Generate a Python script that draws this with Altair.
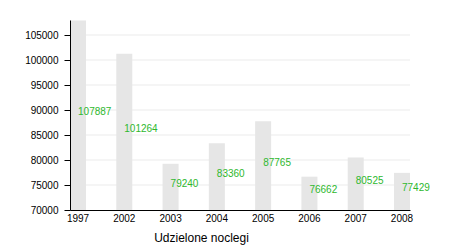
import altair as alt
import pandas as pd

years = ["1997", "2002", "2003", "2004", "2005", "2006", "2007", "2008"]
values = [107887, 101264, 79240, 83360, 87765, 76662, 80525, 77429]
y_ticks = [70000, 75000, 80000, 85000, 90000, 95000, 100000, 105000]

df = pd.DataFrame({"year": years, "value": values})

y_scale = alt.Scale(domain=[70000, 108000], nice=False, zero=False)
y_axis = alt.Axis(
    title=None,
    values=y_ticks,
    format="d",
    labelFont="Liberation Sans",
    labelFontSize=10,
    labelColor="#000000",
    labelPadding=6,
    labelOverlap=False,
    ticks=True,
    tickSize=6,
    tickWidth=1,
    tickColor="#000000",
    domain=True,
    domainColor="#000000",
    domainWidth=1,
    grid=False,
    zindex=1,
)

x = alt.X(
    "year:N",
    sort=years,
    scale=alt.Scale(paddingInner=0.654, paddingOuter=0),
    axis=alt.Axis(
        title="Udzielone noclegi",
        titleFont="Liberation Sans",
        titleFontSize=12,
        titleFontWeight="normal",
        titleColor="#000000",
        titleX=131,
        titleY=31,
        titleAlign="center",
        titleBaseline="alphabetic",
        labelAngle=0,
        labelFont="Liberation Sans",
        labelFontSize=10,
        labelColor="#000000",
        labelPadding=3,
        ticks=False,
        domainColor="#000000",
        domainWidth=1,
        grid=False,
        zindex=1,
    ),
)

grid = alt.Chart(pd.DataFrame({"tick": y_ticks[1:]})).mark_rule(
    color="#ebebeb", strokeWidth=1
).encode(
    y=alt.Y("tick:Q", scale=y_scale, axis=y_axis),
)

bars = alt.Chart(df).mark_bar(color="#e6e6e6", clip=True).encode(
    x=x,
    y=alt.Y("value:Q", scale=y_scale, axis=y_axis),
    y2=alt.datum(70000),
)

labels = alt.Chart(df).transform_calculate(
    mid="(70000 + datum.value) / 2"
).mark_text(
    align="left",
    baseline="alphabetic",
    font="Liberation Sans",
    fontSize=10,
    color="#2eb82e",
).encode(
    x=alt.X("year:N", sort=years, bandPosition=0.5),
    y=alt.Y("mid:Q", scale=y_scale, axis=y_axis),
    text=alt.Text("value:Q", format="d"),
)

chart = alt.layer(grid, bars, labels).properties(
    width=340,
    height=190,
    autosize=alt.AutoSizeParams(type="none"),
    padding={"left": 70, "top": 20, "right": 40, "bottom": 40},
).configure_view(stroke=None)

chart.save("out.html", embed_options={"renderer": "svg", "actions": False})
